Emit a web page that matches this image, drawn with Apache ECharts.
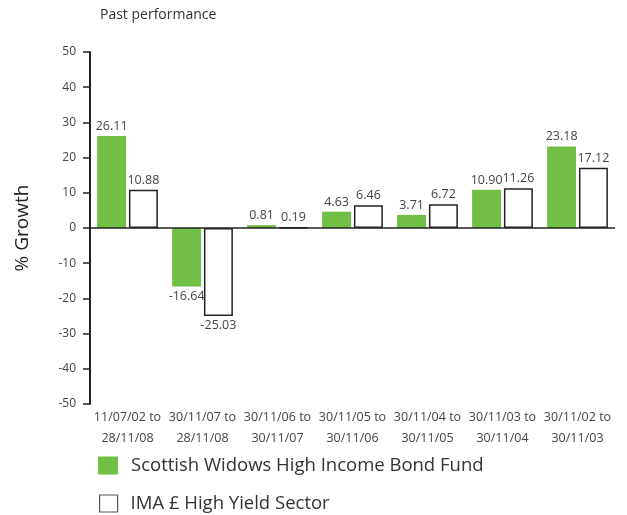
<!DOCTYPE html>
<html>
<head>
<meta charset="utf-8">
<script src="https://cdn.jsdelivr.net/npm/echarts@6/dist/echarts.min.js"></script>
<style>
  html, body { margin: 0; padding: 0; background: #fff; }
  #chart { width: 627px; height: 515px; }
</style>
</head>
<body>
<div id="chart"></div>
<script>
// Discrete-period growth figures (%)
const periods = [
  '11/07/02 to\n28/11/08',
  '30/11/07 to\n28/11/08',
  '30/11/06 to\n30/11/07',
  '30/11/05 to\n30/11/06',
  '30/11/04 to\n30/11/05',
  '30/11/03 to\n30/11/04',
  '30/11/02 to\n30/11/03'
];
const fundValues = [26.11, -16.64, 0.81, 4.63, 3.71, 10.90, 23.18];
const sectorValues = [10.88, -25.03, 0.19, 6.46, 6.72, 11.26, 17.12];
const fundName = 'Scottish Widows High Income Bond Fund';
const sectorName = 'IMA £ High Yield Sector';

const FONT = '"Open Sans", "DejaVu Sans", sans-serif';
const GREEN = '#71bf44';
const INK = '#222';

function withLabels(values) {
  return values.map(v => ({
    value: v,
    label: { position: v < 0 ? 'bottom' : 'top' }
  }));
}
const fmt = p => Number(p.value).toFixed(2);

// Baseline across the plot at value 0
function renderBaseline(params, api) {
  const cs = params.coordSys;
  const pt = api.coord([0, api.value(1)]);
  return {
    type: 'rect',
    shape: { x: cs.x, y: pt[1] - 0.75, width: cs.width, height: 1.5 },
    style: { fill: INK }
  };
}

const legendText = { fontSize: 18.5, color: '#333', fontFamily: FONT, padding: [0, 0, 0, 8] };

const chart = echarts.init(document.getElementById('chart'));
chart.setOption({
  animation: false,
  textStyle: { fontFamily: FONT },
  title: {
    text: 'Past performance',
    left: 100, top: 8, padding: 0,
    textStyle: { fontSize: 14, fontWeight: 'normal', color: '#333', fontFamily: FONT }
  },
  legend: [
    {
      left: 98, top: 456, padding: 0,
      itemWidth: 20, itemHeight: 18,
      icon: 'rect',
      textStyle: legendText,
      data: [{ name: fundName }]
    },
    {
      left: 99, top: 494, padding: 0,
      itemWidth: 18, itemHeight: 17,
      icon: 'rect',
      textStyle: legendText,
      data: [{ name: sectorName, itemStyle: { color: '#fff', borderColor: '#555', borderWidth: 1.2 } }]
    }
  ],
  grid: { left: 90, right: 12, top: 52, bottom: 111 },
  xAxis: {
    type: 'category',
    data: periods,
    axisLine: { show: false, onZero: false },
    axisTick: { show: false },
    axisLabel: { fontSize: 12.5, color: '#444', lineHeight: 21, margin: 3, fontFamily: FONT, interval: 0 }
  },
  yAxis: {
    type: 'value',
    min: -50, max: 50, interval: 10,
    name: '% Growth',
    nameLocation: 'middle',
    nameGap: 58,
    nameTextStyle: { fontSize: 19, color: INK, fontFamily: FONT },
    axisLine: { show: true, onZero: false, lineStyle: { color: INK, width: 2 } },
    axisTick: { show: true, length: 7, lineStyle: { color: INK, width: 1.5 } },
    axisLabel: { fontSize: 12, color: '#444', margin: 14, fontFamily: FONT },
    splitLine: { show: false }
  },
  series: [
    {
      name: fundName,
      type: 'bar',
      data: withLabels(fundValues),
      barGap: '10%',
      barCategoryGap: '19%',
      itemStyle: { color: GREEN },
      label: { show: true, fontSize: 12.5, color: '#444', distance: 3, fontFamily: FONT, formatter: fmt }
    },
    {
      name: sectorName,
      type: 'bar',
      data: withLabels(sectorValues),
      itemStyle: { color: '#fff', borderColor: INK, borderWidth: 1.5 },
      label: { show: true, fontSize: 12.5, color: '#444', distance: 3, fontFamily: FONT, formatter: fmt }
    },
    {
      name: 'baseline',
      type: 'custom',
      clip: false,
      silent: true,
      z: 5,
      renderItem: renderBaseline,
      data: [[0, 0]]
    }
  ]
});
</script>
</body>
</html>
